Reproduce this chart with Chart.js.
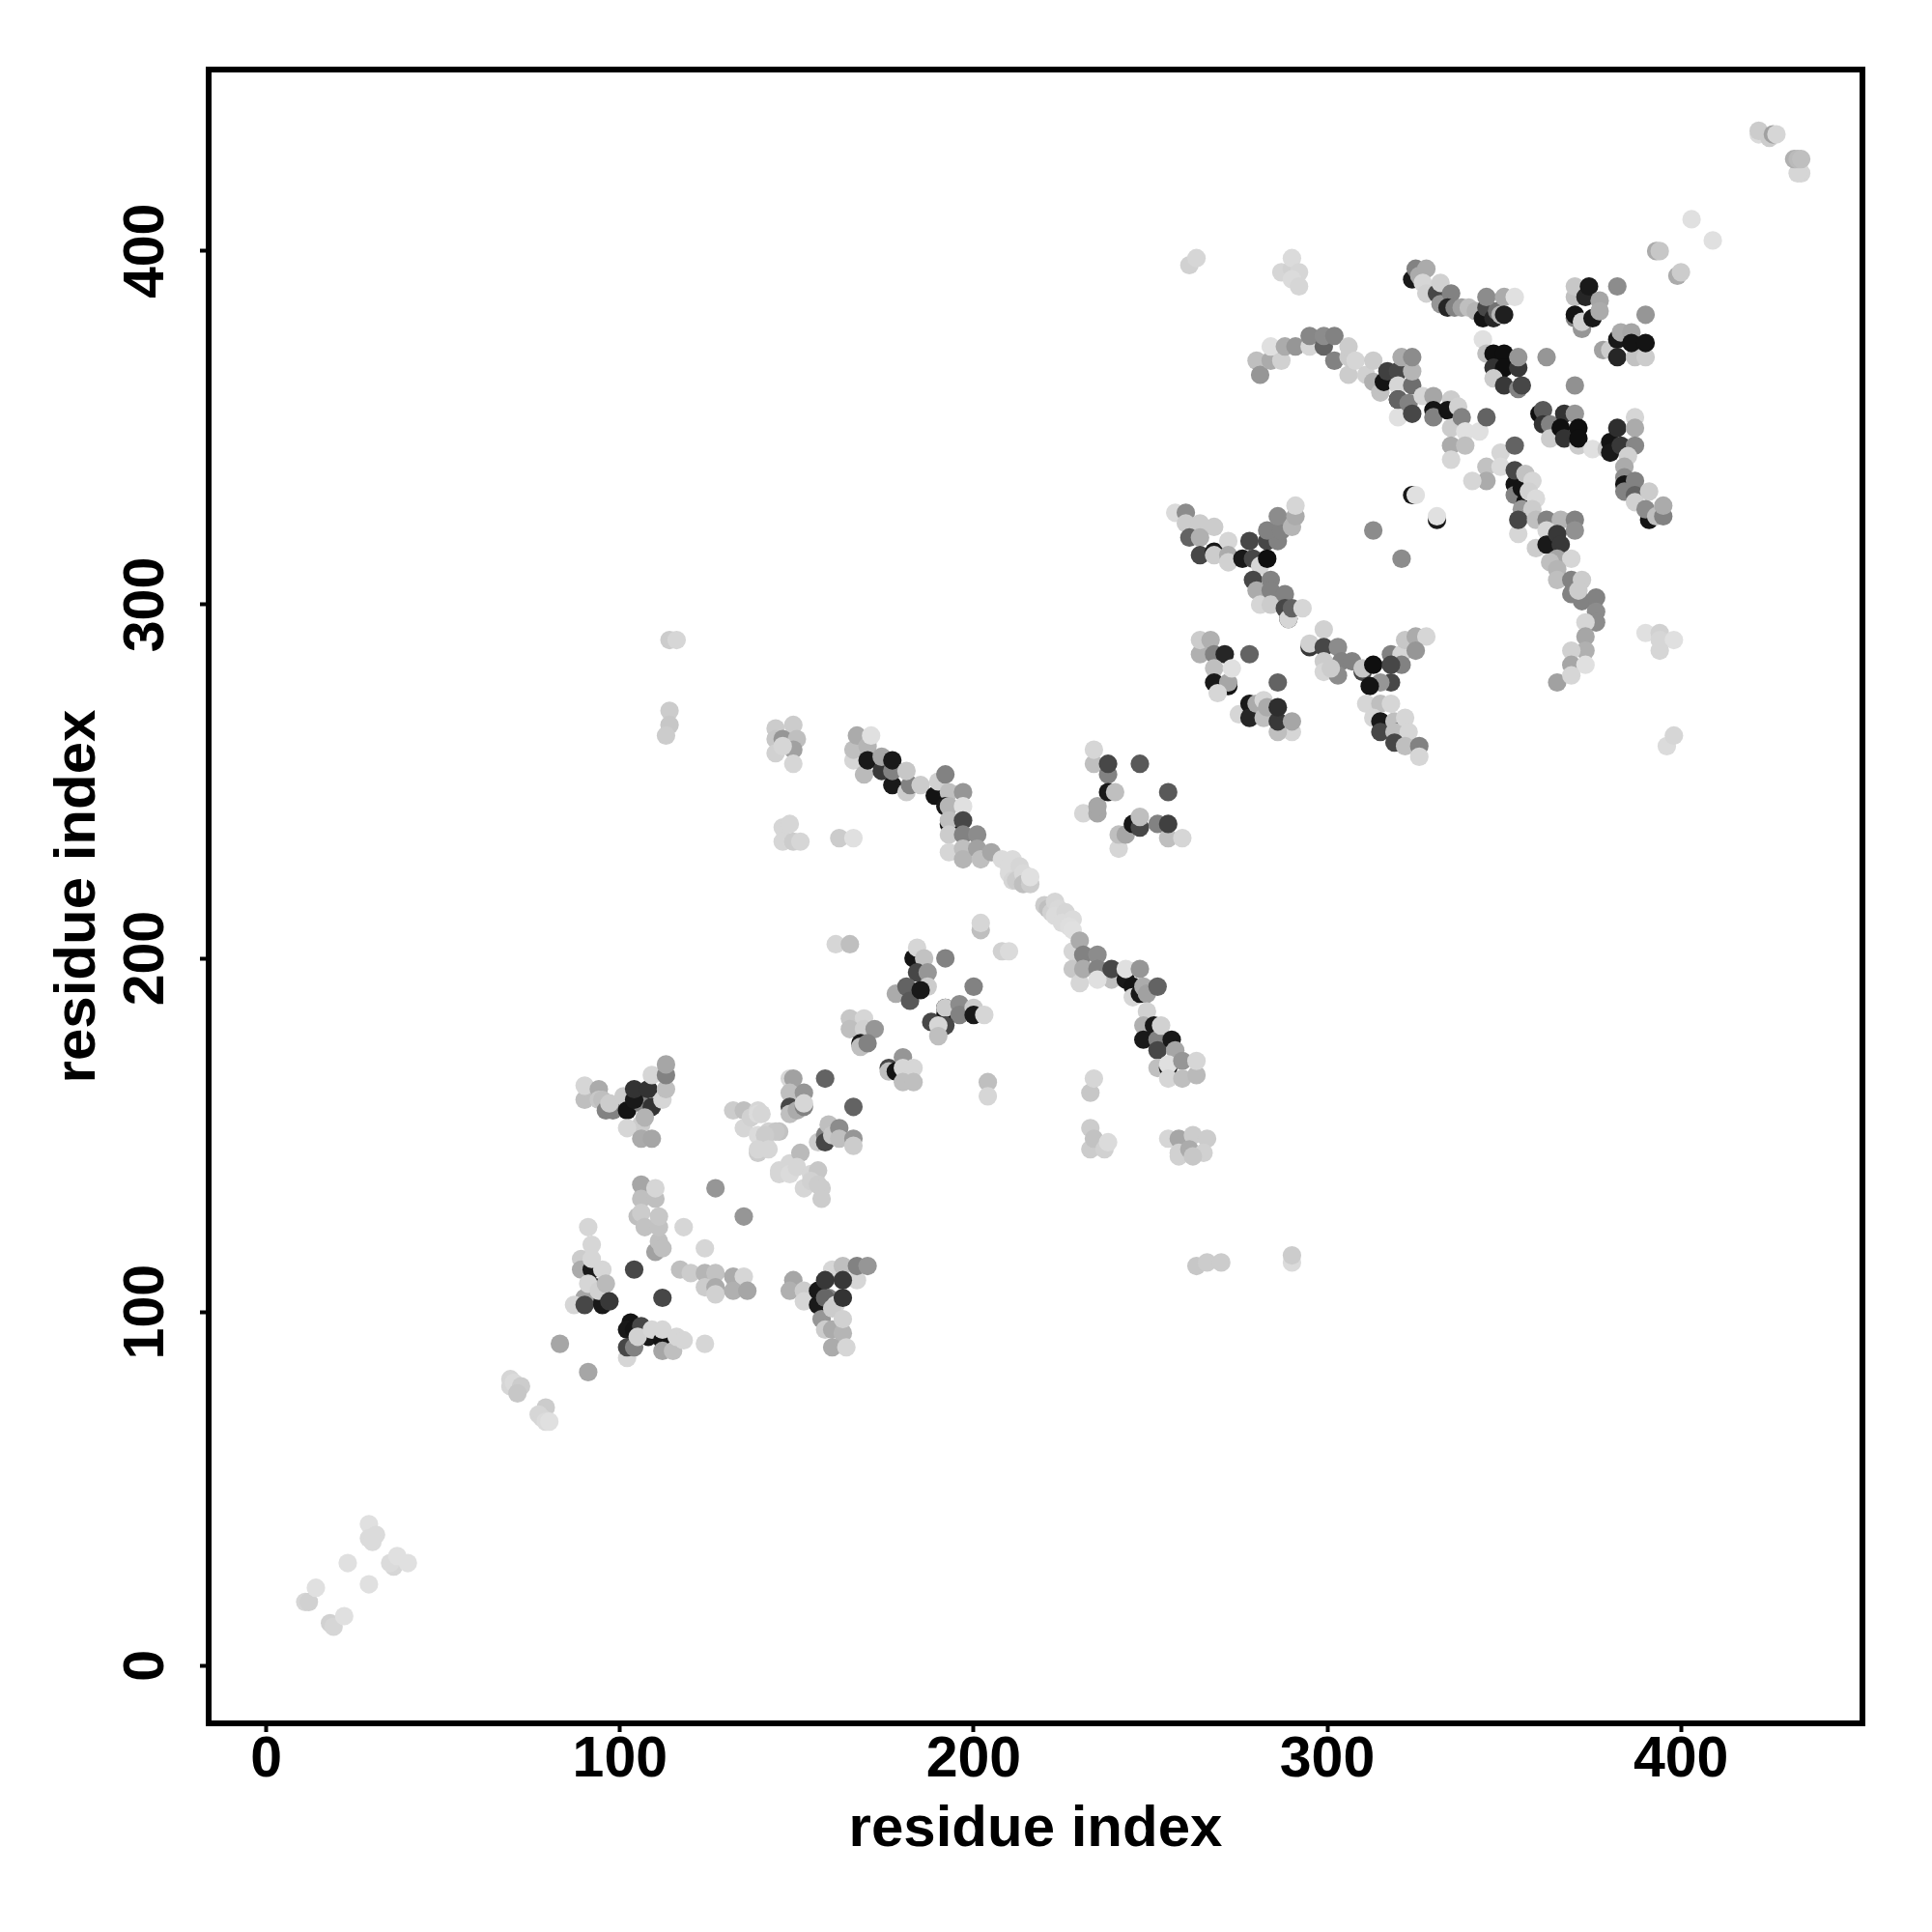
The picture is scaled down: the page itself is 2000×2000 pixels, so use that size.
<!DOCTYPE html>
<html>
<head>
<meta charset="utf-8">
<style>
    body { margin: 0; background: #fff; }
</style>
<script src="https://cdn.jsdelivr.net/npm/chart.js@4/dist/chart.umd.min.js"></script>
</head>
<body>
<canvas id="contactMap" width="2000" height="2000"></canvas>
<script>
// each row: residue i, residue j, contact score (0 = white, 100 = black)
const tickValues = [0, 100, 200, 300, 400];
const axisLabel = 'residue index';

const cornerSouthWest = [
    [29,40,12],[29,36,14],[31,37,14],[30,35,14],[23,29,12],[36,28,16],[35,29,14],[37,31,12],[40,29,12],[29,23,12],
    [11,18,16],[12,18,18],[14,22,12],[18,12,18],[19,11,16],[22,14,12]
];
const lowerDiagonal = [
    [69,81,16],[69,79,16],[70,80,14],[72,79,20],[71,77,22],[79,73,20],[77,71,16],[78,70,16],[79,69,14],[80,69,12],
    [83,91,35],[91,83,35]
];
const block100x100 = [
    [89,115,20],[89,112,33],[92,112,90],[93,107,90],[93,104,90],[90,104,35],[87,102,16],[90,102,72],[95,102,90],
    [91,108,16],[91,124,16],[92,119,16],[92,115,16],[94,106,18],[95,112,16],[96,108,27],[97,103,78],
    [103,97,92],[102,95,90],[102,87,16],[102,90,72],[104,90,49],[104,95,92],[106,96,72],[108,93,90],[105,93,18],[109,95,16],
    [112,92,92],[112,89,35],[115,89,25],[112,95,16],[116,93,16],[118,92,16],[124,91,16],
    [104,112,72],[112,104,72]
];
const block110x125 = [
    [106,136,35],[106,132,25],[110,132,25],[110,135,16],[105,127,25],[106,128,20],[107,124,24],[110,117,37],
    [111,120,25],[112,118,25],[111,124,24],[111,127,22],[118,124,16],[124,118,16],[127,135,41],[135,127,41],
    [117,112,25],[120,111,20],[124,111,29],[127,111,24],[124,107,20],[127,107,33],[127,105,18],
    [132,110,33],[135,110,16],[132,106,31],[136,106,35]
];
const block160x105 = [
    [149,109,35],[148,106,31],[152,106,20],[152,103,16],
    [156,106,90],[156,102,90],[157,98,41],[159,104,49],[158,104,60],[158,95,20],[160,95,33],[163,94,29],
    [160,90,33],[164,90,16],[161,102,16],[160,101,20],[163,98,18],
    [160,112,16],[163,113,25],[167,109,16],[167,113,49],[170,113,41],[158,109,78],[163,109,78],[163,104,80]
];
const block100x160 = [
    [90,160,25],[90,164,16],[94,163,33],[94,160,22],[95,160,25],[96,157,49],[98,157,49],[97,159,20],
    [101,161,20],[102,157,92],[106,153,20],[102,152,16],[106,149,33],[109,149,35],[106,159,49],
    [104,160,90],[104,163,80],[108,163,80],[109,158,80],[107,155,30],[112,160,16],
    [109,167,16],[113,163,25],[113,167,49],[113,170,35]
];
const block140x150 = [
    [132,157,20],[135,157,25],[135,152,16],[137,155,18],[139,157,16],[139,156,14],[139,150,14],[142,151,18],[145,151,24],
    [141,148,16],[139,145,20],[140,156,16],[144,151,22],[141,150,20],[139,146,16],[142,146,16],
    [145,139,16],[145,140,16],[148,142,16],[148,139,14],[151,145,27],[150,141,16],[154,139,16],[156,140,22],
    [152,135,16],[154,137,18],[156,136,20],[157,135,20],[157,132,20]
];
const block150x160 = [
    [148,166,16],[149,166,37],[148,162,25],[152,162,41],[148,158,72],[148,156,25],[150,157,33],[152,158,49],[152,159,16],
    [158,166,61],[166,158,61],
    [156,148,20],[158,150,49],[158,148,72],[159,153,25],[160,150,22],[162,152,45],[162,149,25],[166,149,41],[166,147,20]
];
const block170x180 = [
    [165,183,22],[169,183,16],[165,180,25],[169,180,18],[172,180,41],[168,176,90],[168,175,25],[170,176,49],
    [176,169,72],[176,168,25],[178,168,92],[180,172,41],[180,169,16],[183,169,16],[180,165,25],[183,165,25]
];
const block185x195 = [
    [183,200,92],[184,203,16],[186,200,24],[184,196,72],[187,196,41],[187,192,20],[178,190,33],
    [181,192,61],[182,188,65],[185,191,90],[192,200,49],[200,192,49],
    [192,186,92],[192,184,92],[192,186,20],[196,187,45],[196,184,49],[200,186,20],[200,184,90],[203,184,16],
    [188,182,72],[192,181,72],[190,181,16],[190,178,25]
];
const offDiagonalLow = [
    [161,204,16],[165,204,25],[202,208,25],[202,210,16],[208,202,18],[210,202,14],[204,165,25],[204,161,16],
    [233,162,22],[234,166,16],[233,152,20],[233,146,20],[234,149,24],[237,146,18],[238,148,14],
    [255,149,16],[258,149,35],[258,144,18],[258,145,18],[262,150,20],[266,149,20],[261,146,33],[265,145,18],[262,144,22],
    [263,113,22],[266,114,20],[270,114,20],[290,114,14],[290,116,20],
    [114,290,20],[116,290,16],[114,270,20],[114,266,22],[113,263,20],
    [144,265,20],[149,266,20],[144,262,22],[146,262,41],[150,262,25],[149,259,37],[144,258,18],[149,255,16],[146,260,16],
    [146,237,16],[148,238,16],[146,233,16],[149,233,20],[151,233,16],[162,234,20],[166,234,12]
];
const bandTopLeft = [
    [166,256,16],[166,259,25],[167,263,33],[170,260,29],[171,263,12],[169,252,27],[170,256,90],
    [174,253,78],[174,257,35],[177,249,90],[177,253,49],[177,256,90],[181,247,20],[182,249,49],[181,253,22],[185,249,20],
    [189,246,92],[190,250,18],[192,252,49],[193,247,25],[192,243,90],[193,243,29],[197,247,41],[197,243,12],
    [193,238,92],[193,239,25],[197,239,72],[193,235,20],[197,235,49],[201,235,45],
    [193,230,16],[197,231,25],[197,228,29],[201,231,37],[202,228,25],[205,230,35]
];
const bandMiddle = [
    [208,228,14],[211,228,14],[210,226,14],[210,224,14],[213,226,16],[211,222,16],[212,222,20],[214,224,15],[214,221,25],[216,221,20],[216,223,12],
    [220,215,20],[221,214,25],[222,213,18],[223,216,16],[224,214,15],[223,212,14],[226,213,16],[225,210,14],[228,211,14],[227,209,13],[228,208,12]
];
const bandLowerRight = [
    [228,202,16],[230,205,33],[228,197,22],[230,193,16],[231,201,49],[231,197,33],[235,201,45],[235,197,49],
    [239,194,25],[235,194,12],[239,197,72],[243,194,90],[245,192,92],[243,197,12],[247,197,41],
    [245,189,16],[247,190,90],[248,192,33],[249,190,37],[252,192,61],
    [249,185,18],[248,181,31],[251,181,90],[248,177,90],[252,177,49],[253,181,18],[252,174,72],[256,177,90],
    [257,174,35],[252,169,25],[255,169,90],[255,170,12],[259,171,41],[255,166,16],[259,166,25],[263,167,27],[263,171,16]
];
const block240x245 = [
    [231,241,16],[235,241,35],[235,243,35],[234,255,25],[234,259,16],[238,252,49],[238,247,90],[240,247,25],
    [238,255,72],[247,255,65],[255,247,65],
    [241,231,16],[241,235,25],[243,235,35],[245,238,90],[247,237,72],[247,240,25],[252,238,49],[255,234,25],[259,234,16],[255,238,75]
];
const block265x285 = [
    [264,286,31],[264,290,20],[267,290,31],[268,286,49],[271,286,85],[268,282,25],[268,278,90],[272,277,92],[272,278,35],
    [269,275,16],[273,282,12],[278,286,61],[286,278,61],
    [275,269,16],[278,272,90],[278,268,85],[280,272,33],[282,273,16],[282,268,25],[283,271,33],
    [290,264,16],[286,264,25],[286,267,78],[290,267,35],[286,271,82]
];
const block270x320 = [
    [257,326,14],[260,326,45],[260,323,20],[264,323,20],[268,322,20],[261,319,61],[264,319,31],
    [264,314,72],[268,315,90],[268,314,20],[272,318,16],[272,314,33],[272,312,18],
    [276,313,90],[279,313,72],[281,311,16],[278,318,72],[283,318,72],
    [286,318,49],[283,321,49],[287,321,49],[286,325,45],[290,322,29],[291,325,33],[291,328,16],[283,313,94],
    [279,307,72],[280,304,33],[281,300,16],[284,307,49],[284,304,49],[284,300,20],
    [288,303,49],[288,299,72],[289,296,92],[289,296,16],[290,299,61],[293,299,16]
];
const block300x285 = [
    [295,288,78],[295,289,18],[299,293,18],[299,288,72],[303,288,45],[299,284,20],[299,281,16],[304,284,49],[307,284,49],
    [303,280,45],[310,281,72],[301,282,20],[310,282,22],[313,283,94],
    [318,286,49],[321,286,16],[322,290,22],[325,291,33],[328,291,16],[325,287,41],[321,283,49],[318,283,72],[318,278,72],
    [315,278,41],[312,277,92],
    [311,272,16],[315,272,25],[318,272,16],[313,268,16],[315,267,90],[315,264,72],[319,267,25],[320,264,92],[319,264,25],
    [322,268,16],[323,264,16],[319,261,72],[322,260,25],[326,260,49],[326,257,16]
];
const scatteredMiddle = [
    [261,396,18],[263,398,16],[287,394,16],[290,395,18],[290,398,14],[292,394,16],[290,392,14],[292,390,16],
    [393,400,33],[394,400,22],[399,393,33],[400,394,20],[403,409,12],[409,403,12],
    [390,292,12],[394,292,18],[394,290,16],[398,290,12],[394,287,16],[396,260,14],[398,263,16],
    [313,321,45],[321,313,45],[324,331,90],[325,331,12],[331,324,90],[331,325,12]
];
const bandUpperRight = [
    [280,369,25],[281,365,41],[284,369,33],[287,369,18],[284,373,12],[288,373,33],[291,373,41],
    [295,373,16],[295,376,47],[299,373,61],[299,376,45],[302,369,49],[302,376,49],
    [306,365,20],[306,370,20],[306,373,20],[308,369,16],[311,365,18],[313,363,31],[313,369,20],
    [315,360,24],[316,363,92],[317,366,75],[320,366,72],[320,362,16],[324,362,57],[321,370,33],[324,366,29],[324,370,45],
    [320,358,92],[320,353,12],[320,358,61],[323,357,49],[324,354,72],
    [327,359,16],[330,359,35],[330,355,92],[330,353,49],[335,358,20],[334,355,92],[337,356,18],[335,350,20],[338,353,49],
    [339,349,12],[343,349,12],[335,345,33],[339,345,25],[335,341,16],[345,339,24],[345,335,33],[341,335,16],
    [349,343,16],[349,339,14],[345,353,61],[353,345,61]
];
const bandDownRight = [
    [353,334,92],[353,331,49],[353,338,72],[355,333,92],[356,329,92],[356,337,24],[355,327,40],[358,335,16],[357,332,18],[359,330,14],[358,327,20],
    [354,320,16],[354,324,72],[359,324,25],[362,324,49],[366,324,29],[370,324,49],[370,321,43],[362,321,16],
    [359,316,20],[362,317,90],[365,320,78],[366,317,78],[365,313,35],[369,313,16],[363,312,25],[365,310,29],[365,307,25],
    [369,307,49],[372,307,20],[369,303,49],[372,301,49],[371,304,20],[376,302,49],[376,298,45],[376,295,45],[373,295,16],
    [373,291,35],[373,287,31],[369,287,18],[365,278,37],[369,283,35],[373,283,12],[369,280,16]
];
const block370x385 = [
    [370,387,25],[370,390,22],[373,387,85],[374,390,90],[370,381,49],[370,382,92],[372,378,41],[372,380,18],[375,381,90],
    [377,386,35],[377,383,33],[382,390,45],[390,382,41],
    [378,372,37],[380,372,20],[382,375,90],[382,370,85],[383,377,33],[386,377,35],[387,370,24],[390,370,20],[386,374,92],[390,374,92]
];
const block350x385 = [
    [324,392,90],[325,395,49],[326,393,33],[328,395,33],[327,391,16],[328,388,18],[331,388,72],[332,391,18],[332,385,41],
    [335,388,49],[334,384,85],[336,384,49],[338,384,37],[340,384,25],[342,383,29],
    [344,381,92],[345,384,72],[347,381,85],[348,383,55],[349,382,29],[345,387,45],[350,387,33],[353,387,12],[350,382,88],[344,375,12]
];
const blockBlack360 = [
    [345,371,25],[347,371,94],[350,371,94],[347,367,80],[350,367,94],[347,364,20],[354,367,78],[354,370,41],[362,370,41],
    [350,362,78],[354,361,49],[355,362,72],[370,362,43],
    [360,354,94],[361,355,65],[361,351,80],[363,351,49],[363,347,20],[367,354,80],[370,354,41],
    [366,350,94],[367,347,80],[371,345,20],[371,350,94],[371,347,94],[375,344,12]
];
const block385x340 = [
    [379,344,22],[380,346,92],[380,343,90],[382,350,82],[383,345,78],[387,353,16],[387,350,33],[387,345,47],[385,342,18],
    [384,339,33],[384,336,45],[384,334,92],[384,332,49],[387,335,49],[387,331,61],[391,332,20],[387,329,18],
    [391,324,92],[390,327,45],[393,325,25],[395,325,49],[395,328,33]
];
const cornerNorthEast = [
    [434,422,16],[433,422,16],[422,433,14],[422,434,20],[425,432,20],[426,433,37],[427,433,16],[432,426,31],[433,426,27],[434,426,25]
];

const residueContacts = [
    ...cornerSouthWest, ...lowerDiagonal, ...block100x100, ...block110x125, ...block160x105, ...block100x160,
    ...block140x150, ...block150x160, ...block170x180, ...block185x195, ...offDiagonalLow, ...bandTopLeft,
    ...bandMiddle, ...bandLowerRight, ...block240x245, ...block265x285, ...block270x320, ...block300x285,
    ...scatteredMiddle, ...bandUpperRight, ...bandDownRight, ...block370x385, ...block350x385, ...blockBlack360,
    ...block385x340, ...cornerNorthEast
];

function scoreToGrey(score) {
    const level = Math.round(255 * (1 - score / 100));
    return 'rgb(' + level + ',' + level + ',' + level + ')';
}

// draws the closed box round the plot, the library only has per axis borders
const plotFrame = {
    id: 'plotFrame',
    afterDraw(chart) {
        const { ctx, chartArea } = chart;
        ctx.save();
        ctx.strokeStyle = '#000';
        ctx.lineWidth = 6;
        ctx.lineJoin = 'miter';
        ctx.strokeRect(chartArea.left, chartArea.top, chartArea.right - chartArea.left, chartArea.bottom - chartArea.top);
        ctx.restore();
    }
};

const tickFont = { family: '"Liberation Sans"', size: 59, weight: 'bold' };
const titleFont = { family: '"Liberation Sans"', size: 60, weight: 'bold' };

function axisOptions() {
    return {
        type: 'linear',
        min: -16.32,
        max: 451.32,
        afterBuildTicks: axis => {
            axis.ticks = tickValues.map(v => ({ value: v }));
        },
        border: { display: false },
        grid: { drawOnChartArea: false, drawTicks: true, tickLength: 9, tickWidth: 4, color: '#000' },
        title: { display: true, text: axisLabel, color: '#000', font: titleFont, padding: 0 }
    };
}

const xAxis = axisOptions();
xAxis.ticks = { color: '#000', font: tickFont, padding: -6, maxRotation: 0, minRotation: 0, autoSkip: false };
xAxis.afterFit = axis => { axis.height = 146; };

const yAxis = axisOptions();
yAxis.ticks = { color: '#000', font: tickFont, padding: 5, maxRotation: 90, minRotation: 90, autoSkip: false, crossAlign: 'center' };
yAxis.afterFit = axis => { axis.width = 171; };

new Chart(document.getElementById('contactMap').getContext('2d'), {
    type: 'scatter',
    data: {
        datasets: [{
            data: residueContacts.map(row => ({ x: row[0], y: row[1] })),
            pointRadius: 9.6,
            pointHoverRadius: 9.6,
            pointBorderWidth: 0,
            pointBackgroundColor: residueContacts.map(row => scoreToGrey(row[2]))
        }]
    },
    options: {
        responsive: false,
        animation: false,
        layout: { padding: { left: 45, top: 72, right: 72, bottom: 70 } },
        plugins: { legend: { display: false }, tooltip: { enabled: false } },
        scales: { x: xAxis, y: yAxis }
    },
    plugins: [plotFrame]
});
</script>
</body>
</html>
